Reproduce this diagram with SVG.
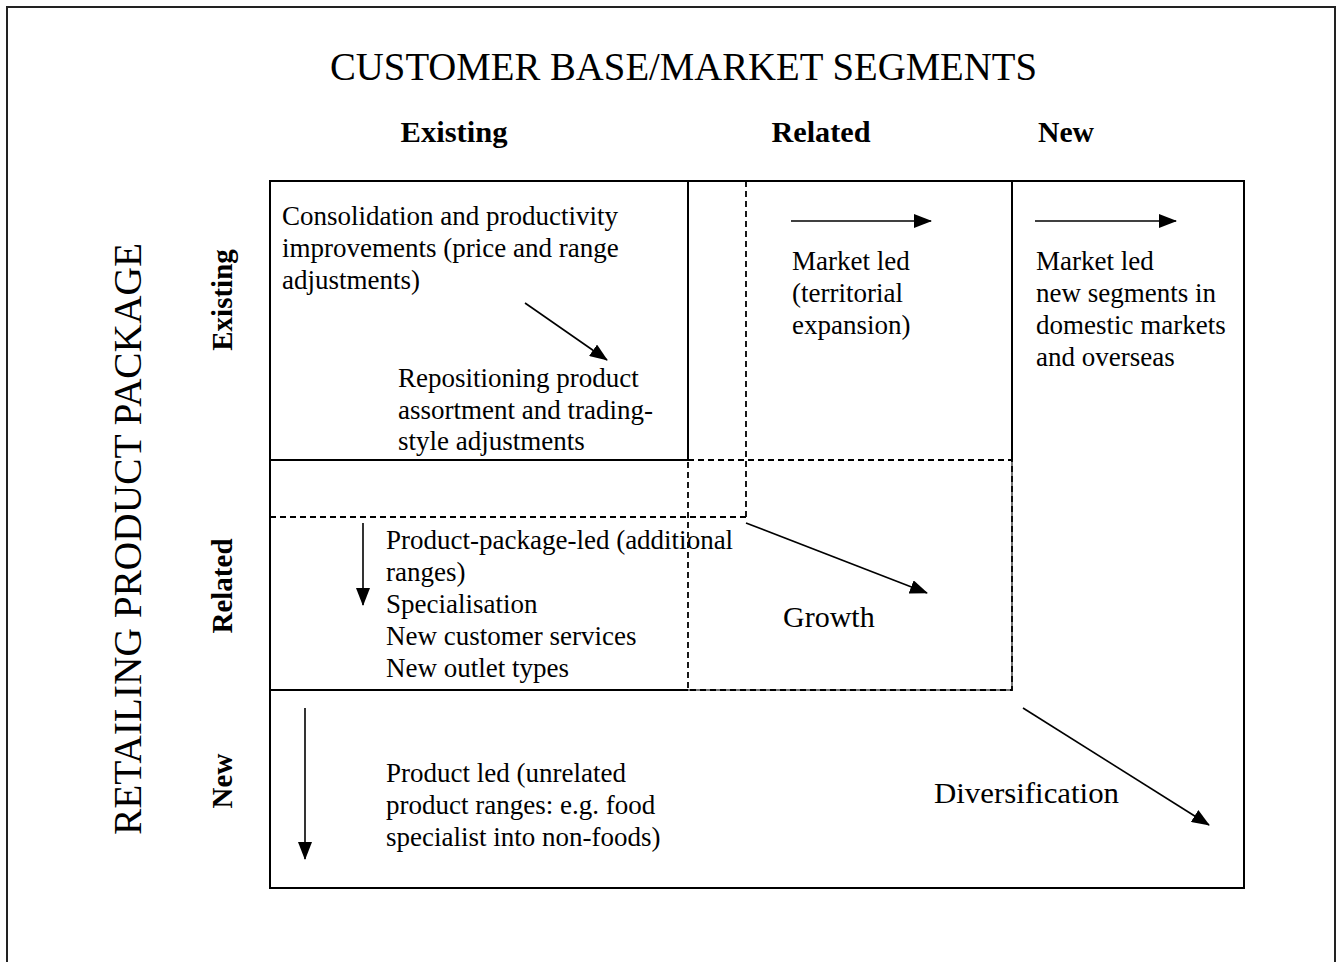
<svg xmlns="http://www.w3.org/2000/svg" width="1342" height="962" viewBox="0 0 1342 962">
  <style>
    text { font-family: "Liberation Serif", "Times New Roman", serif; fill: #000; }
    .title { font-size: 39px; }
    .hdr { font-size: 29px; font-weight: bold; }
    .body { font-size: 27px; }
    .big { font-size: 30px; }
    .solid { stroke: #000; stroke-width: 2; fill: none; }
    .dash { stroke: #000; stroke-width: 1.8; stroke-dasharray: 6 4; fill: none; }
    .grey { stroke: #777; stroke-width: 2; fill: none; }
    .arrow { stroke: #000; stroke-width: 1.6; fill: none; marker-end: url(#ah); }
  </style>
  <defs>
    <marker id="ah" viewBox="0 0 18 14" refX="17" refY="7" markerWidth="18" markerHeight="14" markerUnits="userSpaceOnUse" orient="auto">
      <path d="M0,0 L18,7 L0,14 z" fill="#000"/>
    </marker>
  </defs>
  <rect x="0" y="0" width="1342" height="962" fill="#fff"/>

  <g id="frame">
    <rect x="7" y="7" width="1328" height="1000" fill="none" stroke="#222" stroke-width="2"/>
  </g>

  <g id="title">
    <text class="title" x="683.5" y="80" text-anchor="middle" textLength="707" lengthAdjust="spacingAndGlyphs">CUSTOMER BASE/MARKET SEGMENTS</text>
  </g>

  <g id="column-headers">
    <text class="hdr" x="454" y="142" text-anchor="middle" textLength="107" lengthAdjust="spacingAndGlyphs">Existing</text>
    <text class="hdr" x="821" y="142" text-anchor="middle" textLength="99" lengthAdjust="spacingAndGlyphs">Related</text>
    <text class="hdr" x="1066" y="142" text-anchor="middle" textLength="56" lengthAdjust="spacingAndGlyphs">New</text>
  </g>

  <g id="row-axis-label">
    <text class="title" transform="translate(141,539) rotate(-90)" text-anchor="middle" textLength="592" lengthAdjust="spacingAndGlyphs">RETAILING PRODUCT PACKAGE</text>
  </g>

  <g id="row-headers">
    <text class="hdr" transform="translate(232,300) rotate(-90)" text-anchor="middle">Existing</text>
    <text class="hdr" transform="translate(232,586) rotate(-90)" text-anchor="middle">Related</text>
    <text class="hdr" transform="translate(232,781) rotate(-90)" text-anchor="middle">New</text>
  </g>

  <g id="grid">
    <rect class="solid" x="270" y="181" width="974" height="707"/>
    <line class="solid" x1="688" y1="181" x2="688" y2="460"/>
    <line class="solid" x1="1012" y1="181" x2="1012" y2="460"/>
    <line class="solid" x1="270" y1="460" x2="688" y2="460"/>
    <line class="solid" x1="270" y1="690" x2="688" y2="690"/>
    <line class="grey" x1="688" y1="690" x2="1012" y2="690"/>
    <line class="grey" x1="1012" y1="460" x2="1012" y2="690"/>
    <rect class="dash" x="688" y="460" width="324" height="230"/>
    <line class="dash" x1="746" y1="181" x2="746" y2="517"/>
    <line class="dash" x1="270" y1="517" x2="746" y2="517"/>
  </g>

  <g id="cell-existing-existing">
    <text class="body" x="282" y="225">Consolidation and productivity</text>
    <text class="body" x="282" y="257">improvements (price and range</text>
    <text class="body" x="282" y="289">adjustments)</text>
    <text class="body" x="398" y="387">Repositioning product</text>
    <text class="body" x="398" y="419">assortment and trading-</text>
    <text class="body" x="398" y="450">style adjustments</text>
  </g>

  <g id="cell-existing-related">
    <text class="body" x="792" y="270">Market led</text>
    <text class="body" x="792" y="302">(territorial</text>
    <text class="body" x="792" y="334">expansion)</text>
  </g>

  <g id="cell-existing-new">
    <text class="body" x="1036" y="270">Market led</text>
    <text class="body" x="1036" y="302">new segments in</text>
    <text class="body" x="1036" y="334">domestic markets</text>
    <text class="body" x="1036" y="366">and overseas</text>
  </g>

  <g id="cell-related-existing">
    <text class="body" x="386" y="549">Product-package-led (additional</text>
    <text class="body" x="386" y="581">ranges)</text>
    <text class="body" x="386" y="613">Specialisation</text>
    <text class="body" x="386" y="645">New customer services</text>
    <text class="body" x="386" y="677">New outlet types</text>
  </g>

  <g id="cell-growth">
    <text class="big" x="783" y="627">Growth</text>
  </g>

  <g id="cell-new-existing">
    <text class="body" x="386" y="782">Product led (unrelated</text>
    <text class="body" x="386" y="814">product ranges: e.g. food</text>
    <text class="body" x="386" y="846">specialist into non-foods)</text>
  </g>

  <g id="cell-diversification">
    <text class="big" x="934" y="803" textLength="185" lengthAdjust="spacingAndGlyphs">Diversification</text>
  </g>

  <g id="connectors">
    <line class="arrow" x1="525" y1="303" x2="607" y2="360"/>
    <line class="arrow" x1="791" y1="221" x2="931" y2="221"/>
    <line class="arrow" x1="1035" y1="221" x2="1176" y2="221"/>
    <line class="arrow" x1="363" y1="523" x2="363" y2="605"/>
    <line class="arrow" x1="746" y1="523" x2="927" y2="593"/>
    <line class="arrow" x1="305" y1="708" x2="305" y2="859"/>
    <line class="arrow" x1="1023" y1="708" x2="1209" y2="825"/>
  </g>
</svg>
